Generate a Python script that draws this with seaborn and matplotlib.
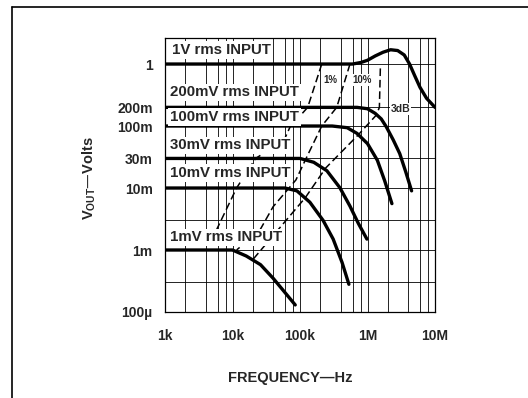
import matplotlib
matplotlib.use("Agg")
import matplotlib.pyplot as plt
import seaborn as sns
import pandas as pd
from matplotlib.lines import Line2D
from matplotlib.ticker import FixedLocator, FixedFormatter, NullFormatter

# --- output curves (Hz, Volts) ---
freq_1v = [1e3, 6e5, 8e5, 1e6, 1.3e6, 1.7e6, 2.2e6, 2.8e6, 3.5e6, 4.2e6, 5e6, 6e6, 7.5e6, 1e7]
vout_1v = [1, 1, 1.06, 1.15, 1.35, 1.55, 1.7, 1.65, 1.4, 1.0, 0.65, 0.42, 0.28, 0.2]

freq_200mv = [1e3, 7e5, 1e6, 1.3e6, 1.6e6, 1.9e6, 2.4e6, 3e6, 3.7e6, 4.5e6]
vout_200mv = [0.2, 0.2, 0.19, 0.16, 0.13, 0.097, 0.06, 0.036, 0.018, 0.009]

freq_100mv = [1e3, 3e5, 5e5, 7e5, 1e6, 1.4e6, 1.8e6, 2.3e6]
vout_100mv = [0.1, 0.1, 0.094, 0.076, 0.052, 0.028, 0.013, 0.0056]

freq_30mv = [1e3, 1e5, 1.6e5, 2.5e5, 3.9e5, 5.5e5, 7.3e5, 9.8e5]
vout_30mv = [0.03, 0.03, 0.026, 0.019, 0.0101, 0.0051, 0.0027, 0.0015]

freq_10mv = [1e3, 6e4, 9e4, 1.4e5, 2.2e5, 3.1e5, 4.2e5, 5.3e5]
vout_10mv = [0.01, 0.01, 0.009, 0.0059, 0.003, 0.0015, 0.00063, 0.00028]

freq_1mv = [1e3, 1e4, 1.6e4, 2.6e4, 4e4, 5.7e4, 8.5e4]
vout_1mv = [1e-3, 1e-3, 8e-4, 5.8e-4, 3.5e-4, 2.2e-4, 1.3e-4]

# --- distortion / -3dB contours (dashed) ---
freq_1pct = [2.1e5, 1.3e5, 7.1e4, 5.8e4, 2.2e4, 1.15e4, 5.9e3, 5.3e3]
vout_1pct = [1.0, 0.2, 0.096, 0.059, 0.030, 0.01, 0.0022, 0.0016]

freq_10pct = [5.5e5, 3.5e5, 2.1e5, 1.3e5, 8.7e4, 4e4, 2.55e4, 1.15e4]
vout_10pct = [1.0, 0.2, 0.1, 0.034, 0.0135, 0.005, 0.0021, 0.001]

freq_3db = [1.55e6, 1.5e6, 1.35e6, 7.2e5, 2.4e5, 1.2e5, 2e4]
vout_3db = [0.85, 0.2, 0.15, 0.071, 0.021, 0.007, 0.0007]

curve_labels = ["1V rms INPUT", "200mV rms INPUT", "100mV rms INPUT",
                "30mV rms INPUT", "10mV rms INPUT", "1mV rms INPUT"]

x_ticks = [1e3, 1e4, 1e5, 1e6, 1e7]
x_ticklabels = ["1k", "10k", "100k", "1M", "10M"]
y_ticks = [1e-4, 1e-3, 1e-2, 3e-2, 1e-1, 2e-1, 1]
y_ticklabels = ["100\u00b5", "1m", "10m", "30m", "100m", "200m", "1"]

# long tables for seaborn
curves = pd.concat([
    pd.DataFrame({"freq": f, "vout": v, "curve": name})
    for f, v, name in zip(
        [freq_1v, freq_200mv, freq_100mv, freq_30mv, freq_10mv, freq_1mv],
        [vout_1v, vout_200mv, vout_100mv, vout_30mv, vout_10mv, vout_1mv],
        curve_labels)
], ignore_index=True)

contours = pd.concat([
    pd.DataFrame({"freq": f, "vout": v, "level": name})
    for f, v, name in zip([freq_1pct, freq_10pct, freq_3db],
                          [vout_1pct, vout_10pct, vout_3db],
                          ["1%", "10%", "3dB"])
], ignore_index=True)

sns.set_theme(style="white")
plt.rcParams["font.family"] = ["Liberation Sans", "DejaVu Sans"]
plt.rcParams["font.weight"] = "bold"

fig = plt.figure(figsize=(5.28, 3.98), dpi=100)
ax = fig.add_axes([165 / 528, 86 / 398, 270 / 528, 274 / 398])
ax.set_xscale("log")
ax.set_yscale("log")

# thick output curves
sns.lineplot(data=curves, x="freq", y="vout", units="curve", estimator=None,
             sort=False, color="black", lw=2.4, legend=False, ax=ax, zorder=3)

# dashed contours
sns.lineplot(data=contours, x="freq", y="vout", units="level", estimator=None,
             sort=False, color="black", lw=1.1, ls=(0, (5, 2.5)),
             legend=False, ax=ax, zorder=2)

ax.set_xlim(1e3, 1e7)
ax.set_ylim(1e-4, 2.63)

# grid
ax.xaxis.set_major_locator(FixedLocator(x_ticks))
ax.xaxis.set_major_formatter(FixedFormatter(x_ticklabels))
ax.xaxis.set_minor_locator(FixedLocator(
    [m * d for d in [1e3, 1e4, 1e5, 1e6] for m in (2, 4, 6, 8)]))
ax.xaxis.set_minor_formatter(NullFormatter())
ax.yaxis.set_major_locator(FixedLocator(y_ticks))
ax.yaxis.set_major_formatter(FixedFormatter(y_ticklabels))
ax.yaxis.set_minor_locator(FixedLocator([3e-4, 3e-3]))
ax.yaxis.set_minor_formatter(NullFormatter())
ax.grid(which="both", color="black", lw=0.6)
ax.set_axisbelow(True)
ax.tick_params(which="both", length=0)
ax.tick_params(axis="x", pad=12, labelsize=10)
ax.tick_params(axis="y", pad=9, labelsize=10)
for lab in ax.get_xticklabels() + ax.get_yticklabels():
    lab.set_fontweight("bold")
for sp in ax.spines.values():
    sp.set_color("black")
    sp.set_linewidth(0.9)

ax.set_xlabel("FREQUENCY\u2014Hz", fontsize=10.5, fontweight="bold")
ax.xaxis.set_label_coords(0.463, -0.215)
ax.set_ylabel("V$_{\\mathregular{OUT}}$\u2014Volts", fontsize=10.5,
              fontweight="bold")
ax.yaxis.set_label_coords(-0.25, 0.49)

# curve labels with white boxes hiding the grid
box = dict(facecolor="white", edgecolor="none", pad=1.2)
label_pos = [(1.27e3, 1.68), (1.19e3, 0.35), (1.19e3, 0.14),
             (1.19e3, 0.049), (1.19e3, 0.0175), (1.19e3, 0.0016)]
for (x, y), text in zip(label_pos, curve_labels):
    ax.text(x, y, text, fontsize=10.8, fontweight="bold", ha="left",
            va="center", bbox=box, zorder=4)

small_box = dict(facecolor="white", edgecolor="none", pad=0.6)
ax.text(2.2e5, 0.55, "1%", fontsize=7, fontweight="bold", ha="left",
        va="center", bbox=small_box, zorder=4)
ax.text(5.9e5, 0.55, "10%", fontsize=7, fontweight="bold", ha="left",
        va="center", bbox=small_box, zorder=4)
ax.text(2.2e6, 0.19, "3dB", fontsize=7.5, fontweight="bold", ha="left",
        va="center", bbox=small_box, zorder=4)

# page border (top and left edge)
fig.add_artist(Line2D([12 / 528, 12 / 528], [0, 1 - 7 / 398],
                      color="black", lw=1.2))
fig.add_artist(Line2D([12 / 528, 1], [1 - 7 / 398, 1 - 7 / 398],
                      color="black", lw=1.2))

fig.savefig("out.png", dpi=100)
